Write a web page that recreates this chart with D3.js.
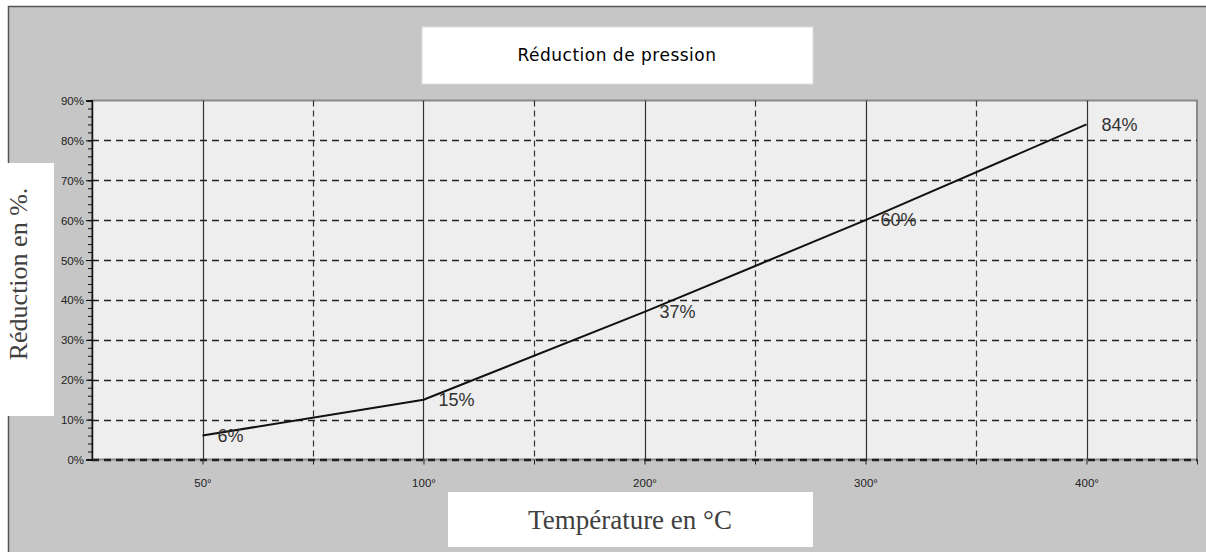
<!DOCTYPE html>
<html>
<head>
<meta charset="utf-8">
<script src="https://cdn.jsdelivr.net/npm/d3@7"></script>
<style>
  body { margin: 0; background: #fff; }
  svg { display: block; }
  .tick text { font-family: "Liberation Sans", Arial, sans-serif; fill: #222; }
</style>
</head>
<body>
<svg></svg>
<script>
// chart data
const temperatures = ["50°", "100°", "200°", "300°", "400°"];
const reductions = [6, 15, 37, 60, 84];
const yTicks = [0, 10, 20, 30, 40, 50, 60, 70, 80, 90];

const chartTitle = "Réduction de pression";
const xTitle = "Température en °C";
const yTitle = "Réduction en %.";

window.onload = () => {
    let width = 1206, height = 552;
    let plot = {left: 92, right: 1197, top: 100.5, bottom: 459.5};

    let svg = d3.select("svg")
        .attr("width", width)
        .attr("height", height);

    // outer grey frame
    svg.append("rect")
        .attr("x", 8.5).attr("y", 6.5)
        .attr("width", width).attr("height", height)
        .attr("fill", "#c6c6c6")
        .attr("stroke", "#555")
        .attr("stroke-width", 1.5);

    let x = d3.scaleLinear()
        .domain([-0.5, temperatures.length - 0.5])
        .range([plot.left, plot.right]);
    let y = d3.scaleLinear()
        .domain([0, 90])
        .range([plot.bottom, plot.top]);

    // plot background
    svg.append("rect")
        .attr("x", plot.left).attr("y", plot.top)
        .attr("width", plot.right - plot.left)
        .attr("height", plot.bottom - plot.top)
        .attr("fill", "#eeeeee")
        .attr("stroke", "#8a8a8a")
        .attr("stroke-width", 2);

    // vertical grid: solid at categories, dashed between
    let centers = d3.range(temperatures.length);
    let bounds = d3.range(0.5, temperatures.length - 0.5, 1);

    svg.append("g").selectAll("line")
        .data(bounds)
        .enter().append("line")
            .attr("x1", d => Math.round(x(d)) + 0.5)
            .attr("x2", d => Math.round(x(d)) + 0.5)
            .attr("y1", plot.top).attr("y2", plot.bottom)
            .attr("stroke", "#333")
            .attr("stroke-width", 1.2)
            .attr("stroke-dasharray", "6,4");

    svg.append("g").selectAll("line")
        .data(centers)
        .enter().append("line")
            .attr("x1", d => Math.round(x(d)) + 0.5)
            .attr("x2", d => Math.round(x(d)) + 0.5)
            .attr("y1", plot.top).attr("y2", plot.bottom)
            .attr("stroke", "#333")
            .attr("stroke-width", 1.2);

    // horizontal grid (dashed)
    svg.append("g").selectAll("line")
        .data(yTicks.filter(d => d < 90))
        .enter().append("line")
            .attr("x1", plot.left).attr("x2", plot.right)
            .attr("y1", d => Math.round(y(d)) + 0.5)
            .attr("y2", d => Math.round(y(d)) + 0.5)
            .attr("stroke", "#222")
            .attr("stroke-width", 1.3)
            .attr("stroke-dasharray", "7,5");

    // y axis with minor ticks
    svg.append("g")
        .attr("transform", "translate(" + plot.left + ",0)")
        .call(d3.axisLeft(y).tickValues(d3.range(0, 91, 2)).tickSize(4).tickFormat(""))
        .call(g => g.select(".domain").remove())
        .selectAll("line").attr("stroke", "#111");

    let yAxis = svg.append("g")
        .attr("transform", "translate(" + plot.left + ",0)")
        .call(d3.axisLeft(y).tickValues(yTicks).tickSize(6).tickPadding(2)
            .tickFormat(d => d + "%"));
    yAxis.select(".domain").attr("stroke", "#111").attr("stroke-width", 1.5);
    yAxis.selectAll("text").style("font-size", "11.5px").attr("dy", "0.35em");

    // x axis
    svg.append("g")
        .attr("transform", "translate(0," + plot.bottom + ")")
        .call(d3.axisBottom(x).tickValues(bounds.concat([temperatures.length - 0.5])).tickSize(5).tickFormat(""))
        .call(g => g.select(".domain").remove())
        .selectAll("line").attr("stroke", "#222");

    let xAxis = svg.append("g")
        .attr("transform", "translate(0," + plot.bottom + ")")
        .call(d3.axisBottom(x).tickValues(centers).tickSize(5).tickPadding(14)
            .tickFormat(i => temperatures[i]));
    xAxis.select(".domain").remove();
    xAxis.selectAll("line").attr("stroke", "#222");
    xAxis.selectAll("text").style("font-size", "11.5px");

    // dashed base line over the grey border
    svg.append("line")
        .attr("x1", plot.left).attr("x2", plot.right)
        .attr("y1", plot.bottom).attr("y2", plot.bottom)
        .attr("stroke", "#222")
        .attr("stroke-width", 1.3)
        .attr("stroke-dasharray", "7,5");

    // data line
    let line = d3.line()
        .x((d, i) => x(i))
        .y(d => y(d));

    svg.append("path")
        .datum(reductions)
        .attr("d", line)
        .attr("fill", "none")
        .attr("stroke", "#111")
        .attr("stroke-width", 2);

    svg.append("g").selectAll("text")
        .data(reductions)
        .enter().append("text")
            .attr("x", (d, i) => x(i) + 15)
            .attr("y", d => y(d))
            .attr("dy", "0.35em")
            .style("font-family", "'Liberation Sans', Arial, sans-serif")
            .style("font-size", "18px")
            .style("fill", "#333")
            .text(d => d + "%");

    // title box
    svg.append("rect")
        .attr("x", 422).attr("y", 27)
        .attr("width", 391).attr("height", 57)
        .attr("fill", "#fff")
        .attr("stroke", "#ddd");
    svg.append("text")
        .attr("x", 617).attr("y", 55.5)
        .attr("dy", "0.35em")
        .attr("text-anchor", "middle")
        .style("font-family", "'DejaVu Sans', Tahoma, sans-serif")
        .style("font-size", "17px")
        .style("letter-spacing", "0.5px")
        .style("fill", "#000")
        .text(chartTitle);

    // x title box
    svg.append("rect")
        .attr("x", 448).attr("y", 492)
        .attr("width", 365).attr("height", 55)
        .attr("fill", "#fff");
    svg.append("text")
        .attr("x", 630).attr("y", 519.5)
        .attr("dy", "0.35em")
        .attr("text-anchor", "middle")
        .style("font-family", "'Liberation Serif', 'DejaVu Serif', serif")
        .style("font-size", "27px")
        .style("fill", "#404040")
        .text(xTitle);

    // y title box
    svg.append("rect")
        .attr("x", 0).attr("y", 163)
        .attr("width", 54).attr("height", 253)
        .attr("fill", "#fff");
    svg.append("text")
        .attr("transform", "translate(18,274) rotate(-90)")
        .attr("dy", "0.35em")
        .attr("text-anchor", "middle")
        .style("font-family", "'Liberation Serif', 'DejaVu Serif', serif")
        .style("font-size", "26px")
        .style("fill", "#404040")
        .text(yTitle);
}
</script>
</body>
</html>
